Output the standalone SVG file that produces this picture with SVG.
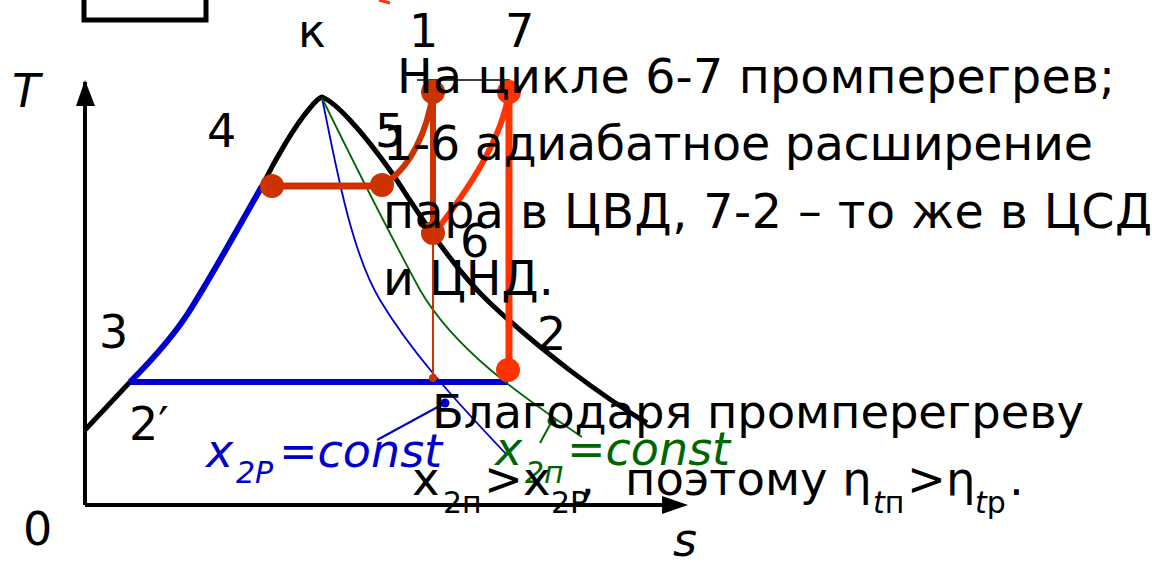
<svg xmlns="http://www.w3.org/2000/svg" width="1152" height="563" viewBox="0 0 1152 563">
<style>
text{font-family:"DejaVu Sans","Verdana",sans-serif;font-size:46px;fill:#000}
.p1{font-size:47.5px}
.p2{font-size:46.5px}
.it{font-style:italic}
.sub{font-size:30px}
.blk{fill:none;stroke:#000;stroke-width:5}
.thin{fill:none;stroke-width:1.8}
.r1{fill:#CC3300}
.r2{fill:#FF3300}
.bl{fill:#0000CC}
.gr{fill:#006600}
</style>
<rect width="1152" height="563" fill="#fff"/>
<path class="blk" d="M84,-5 V20 H206 V-5"/>
<path d="M379,0 L390,3" stroke="#FF3300" stroke-width="3" fill="none"/>

<g id="axes">
<path d="M85,505 V82" stroke="#000" stroke-width="4" fill="none"/>
<path d="M85,80 L76,106 L95,106 Z" fill="#000"/>
<path d="M85,505 H665" stroke="#000" stroke-width="4" fill="none"/>
<path d="M688,505 L662,496 L662,514 Z" fill="#000"/>
<text x="12" y="107" class="it">T</text>
<text x="673" y="556" class="it">s</text>
<text x="23" y="545">0</text>
</g>

<g id="connectors">
<path class="blk" d="M85,430 L130,382"/>
<path class="blk" d="M262,186 C275,160 295,125 310,108 Q318,98 322,97 C335,102 360,128 392,173 C420,215 450,265 490,303 C540,350 600,395 647,423"/>
<path d="M130,382 C150,362 175,335 192,307 C215,270 240,225 262,186" fill="none" stroke="#0000CC" stroke-width="6"/>
<path d="M130,382 H508" stroke="#0000CC" stroke-width="6" fill="none"/>
<path class="thin" stroke="#0000CC" d="M322,98 C335,160 350,250 380,300 C410,350 450,395 507,455"/>
<path class="thin" stroke="#006600" d="M322,98 C345,145 385,225 420,290 C455,350 520,395 582,437"/>
<path d="M272,186 H382" stroke="#CC3300" stroke-width="7" fill="none"/>
<path d="M382,185 C410,170 428,130 433,92" stroke="#CC3300" stroke-width="6" fill="none"/>
<path d="M433,92 V233" stroke="#CC3300" stroke-width="6" fill="none"/>
<path d="M433,233 V378" stroke="#CC3300" stroke-width="2" fill="none"/>
<path d="M433,235 C468,190 502,140 509,92" stroke="#FF3300" stroke-width="6" fill="none"/>
<path d="M509,92 V370" stroke="#FF3300" stroke-width="7" fill="none"/>
<path d="M417,80 H510" stroke="#000" stroke-width="1.5" fill="none"/>
<path d="M377,440 L445,403" stroke="#0000CC" stroke-width="2" fill="none"/>
<path d="M540,443 L552,421" stroke="#006600" stroke-width="2" fill="none"/>
</g>

<g id="node-k"><text x="298" y="47">к</text></g>
<g id="node-1"><circle class="r1" cx="433" cy="92" r="12"/><text x="409" y="47">1</text></g>
<g id="node-7"><circle class="r2" cx="509" cy="92" r="12"/><text x="505" y="47">7</text></g>
<g id="node-4"><circle class="r1" cx="272" cy="186" r="12"/><text x="207" y="147">4</text></g>
<g id="node-5"><circle class="r1" cx="382" cy="185" r="12"/><text x="375" y="147">5</text></g>
<g id="node-6"><circle class="r1" cx="433" cy="233" r="12"/><text x="460" y="257">6</text></g>
<g id="node-2"><circle class="r2" cx="508" cy="370" r="12"/><text x="537" y="350">2</text></g>
<g id="node-3"><text x="99" y="348">3</text></g>
<g id="node-2prime"><text x="129" y="440">2′</text></g>
<g id="node-6s"><circle class="r1" cx="433" cy="378" r="4"/></g>
<g id="node-x2p"><circle class="bl" cx="445" cy="403" r="4.5"/>
<text x="206" y="467" class="it bl">x<tspan class="sub" x="236" dy="16">2P</tspan><tspan x="279" dy="-16">=const</tspan></text></g>
<g id="node-x2n"><circle class="gr" cx="552" cy="421" r="4.5"/>
<text x="495" y="465" class="it gr">x<tspan class="sub" x="525" dy="18">2п</tspan><tspan x="567" dy="-18">=const</tspan></text></g>

<g id="notes">
<text class="p1" x="397" y="93" textLength="718" lengthAdjust="spacing">На цикле 6-7 промперегрев;</text>
<text class="p1" x="383" y="160" textLength="710" lengthAdjust="spacing">1-6 адиабатное расширение</text>
<text class="p1" x="383" y="228" textLength="769" lengthAdjust="spacing">пара в ЦВД, 7-2 – то же в ЦСД</text>
<text class="p1" x="383" y="295">и ЦНД.</text>
<text class="p2" x="432" y="428" textLength="652" lengthAdjust="spacing">Благодаря промперегреву</text>
<text class="p2" x="412" y="495">x<tspan class="sub" x="443" dy="18">2п</tspan><tspan x="484" dy="-18">&gt;x</tspan><tspan class="sub" x="551" dy="18">2Р</tspan><tspan x="580" dy="-18">,</tspan><tspan x="625">поэтому η</tspan><tspan class="sub" x="873" dy="18"><tspan class="it">t</tspan>п</tspan><tspan x="907" dy="-18">&gt;η</tspan><tspan class="sub" x="975" dy="18"><tspan class="it">t</tspan>р</tspan><tspan x="1009" dy="-18">.</tspan></text>
</g>
</svg>
